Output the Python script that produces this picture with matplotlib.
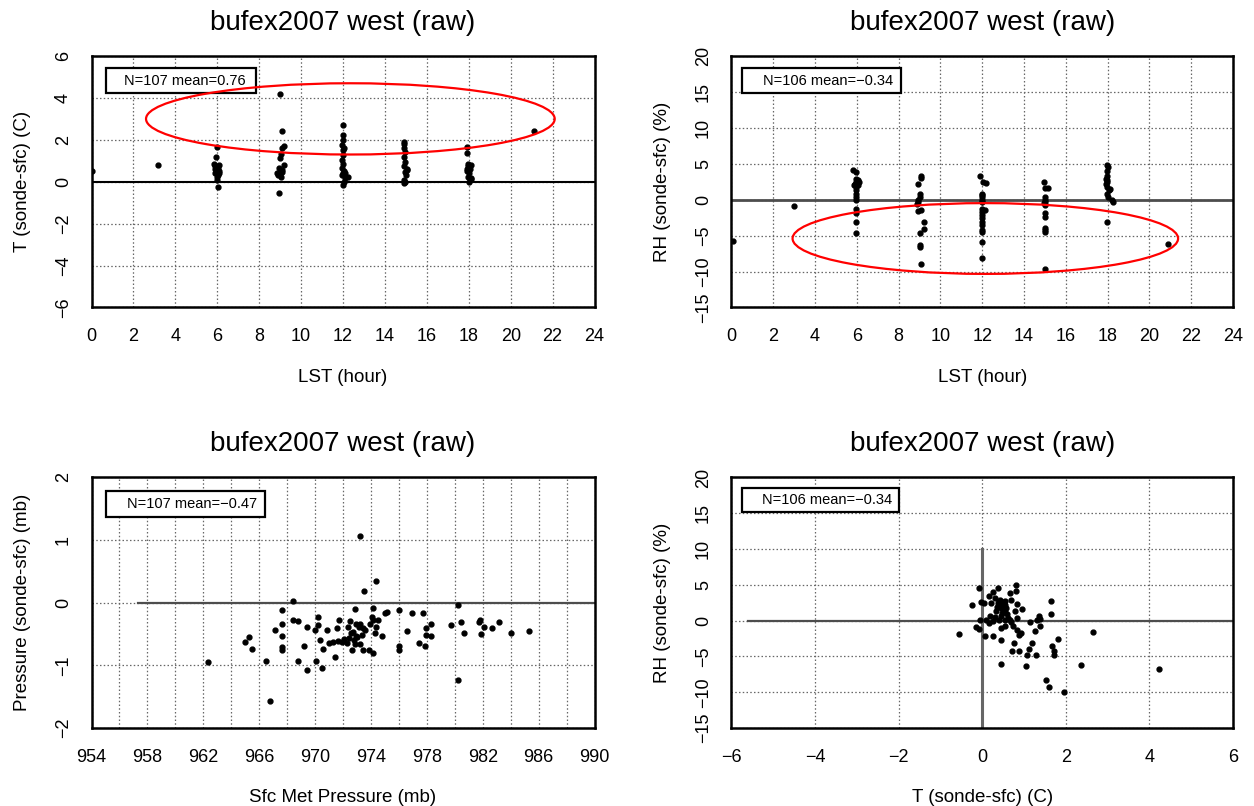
import matplotlib
matplotlib.use("Agg")
import numpy as np
import matplotlib.pyplot as plt
from matplotlib.patches import Ellipse, Rectangle

plt.rcParams['font.family'] = ['Liberation Sans', 'DejaVu Sans']

# --- T (sonde-sfc) vs LST ---
t_hour = [0.0, 3.17,
          6.0, 5.95, 5.85, 5.9, 6.05, 5.95, 6.1, 6.0, 6.1, 5.9, 6.05, 6.0, 6.0, 6.05, 5.9, 6.1,
          9.0, 9.07, 9.2, 9.07, 9.03, 9.0, 9.17, 8.95, 9.07, 8.86, 9.0, 9.02, 8.95, 9.1, 8.92,
          12.0, 12.0, 12.0, 11.97, 12.0, 12.0, 11.97, 12.0, 11.97, 12.05, 12.0, 12.24, 12.1, 12.03, 12.0, 12.1, 11.95, 12.03,
          14.9, 14.9, 14.95, 14.92, 14.95, 14.9, 15.05, 14.95, 15.0, 14.92, 14.92, 15.05, 14.9, 14.95,
          17.9, 17.9, 17.95, 18.1, 17.95, 18.05, 17.9, 18.0, 17.95, 18.1, 18.0, 18.1, 17.9,
          21.1]
t_diff = [0.5, 0.8,
          1.67, 1.19, 0.87, 0.75, 0.68, 0.59, 0.52, 0.48, 0.4, 0.4, 0.32, 0.21, 0.08, -0.27, 0.62, 0.78,
          4.17, 2.41, 1.71, 1.62, 1.32, 1.11, 0.79, 0.68, 0.56, 0.43, 0.35, 0.21, -0.52, 0.45, 0.3,
          2.7, 2.22, 1.98, 1.75, 1.51, 1.27, 1.03, 0.87, 0.68, 0.52, 0.4, 0.24, 0.16, 0.0, -0.16, 0.42, 0.3, 1.6,
          1.9, 1.79, 1.43, 1.19, 0.95, 0.75, 0.59, 0.48, 0.32, 0.08, -0.08, 0.55, 1.6, 0.0,
          1.67, 1.35, 0.84, 0.8, 0.75, 0.63, 0.52, 0.4, 0.24, 0.11, 0.0, 0.18, 0.6,
          2.43]

# --- RH (sonde-sfc) vs LST ---
rh_hour = [0.05, 3.0,
           5.8, 5.97, 5.97, 6.05, 5.95, 5.9, 6.05, 5.95, 5.97, 5.97, 5.97, 5.97, 5.97, 5.97, 5.95, 5.95, 6.1, 5.85,
           9.05, 8.95, 9.0, 9.0, 8.92, 8.95, 8.9, 9.08, 9.2, 9.2, 9.0, 9.0, 9.03, 9.08, 9.05, 8.95,
           11.9, 12.05, 12.2, 11.97, 11.97, 11.97, 11.97, 11.97, 12.13, 11.97, 11.97, 11.97, 11.97, 11.97, 11.97, 11.97, 11.97, 11.97, 12.0,
           14.95, 15.0, 15.15, 15.0, 15.0, 15.0, 15.0, 15.0, 15.0, 15.0, 15.0, 15.0, 15.0, 14.95,
           17.95, 18.0, 17.95, 17.97, 17.93, 17.97, 17.93, 17.97, 18.05, 17.97, 18.0, 18.2, 18.25, 17.97, 18.1, 17.95,
           20.9]
rh_diff = [-5.8, -0.83,
           4.15, 3.8, 2.9, 2.7, 2.45, 2.2, 2.0, 1.75, 1.3, 0.8, 0.35, 0.0, -1.25, -1.9, -3.05, -4.7, 2.5, 2.1,
           3.36, 2.2, 0.83, 0.37, 0.0, -0.32, -0.55, -1.47, -3.1, -4.1, -4.7, -6.3, -6.55, -8.9, 3.0, -1.6,
           3.36, 2.44, 2.35, 0.83, 0.37, 0.0, -0.3, -1.24, -1.47, -1.7, -2.17, -2.6, -3.1, -3.55, -4.2, -4.5, -5.85, -8.15, 0.6,
           2.44, 1.66, 1.66, 0.37, 0.0, -0.3, -0.8, -1.9, -2.4, -3.9, -4.2, -4.5, -9.7, -0.5,
           4.9, 4.5, 4.05, 3.36, 2.9, 2.44, 2.2, 1.75, 1.3, 0.83, 0.37, -0.1, -0.3, -3.1, 1.5, 2.7,
           -6.1]

# --- Pressure (sonde-sfc) vs Sfc Met Pressure ---
p_sfc = [973.23, 974.38, 973.47, 968.40, 980.21, 967.66, 972.85, 974.11, 976.03, 975.14,
         974.97, 976.91, 977.70, 970.20, 974.07, 974.14, 974.47, 968.40, 968.81, 971.73,
         972.51, 981.83, 981.73, 983.15, 980.45, 979.75, 978.32, 967.66, 970.24, 972.92,
         973.23, 973.95, 974.35, 969.43, 969.96, 970.84, 971.58, 972.39, 973.11, 973.40,
         977.96, 982.07, 982.65, 967.16, 985.30, 984.03, 976.58, 980.64, 981.90, 965.25,
         967.66, 972.56, 973.35, 972.92, 974.28, 974.78, 977.91, 978.32, 965.01, 970.32,
         970.96, 971.27, 971.65, 972.06, 971.92, 972.27, 972.75, 972.87, 973.18, 977.44,
         977.84, 969.19, 967.66, 976.03, 965.49, 967.66, 970.58, 972.61, 973.40, 973.88,
         974.14, 976.03, 971.46, 966.52, 968.81, 970.05, 969.43, 970.46, 962.33, 980.21,
         966.78, 972.70, 973.00, 972.40, 973.60]
p_diff = [1.06, 0.35, 0.19, 0.02, -0.03, -0.12, -0.10, -0.08, -0.12, -0.15,
          -0.17, -0.17, -0.17, -0.22, -0.22, -0.28, -0.28, -0.27, -0.29, -0.27,
          -0.29, -0.27, -0.30, -0.31, -0.31, -0.36, -0.34, -0.34, -0.36, -0.34,
          -0.34, -0.34, -0.38, -0.39, -0.43, -0.44, -0.41, -0.38, -0.39, -0.41,
          -0.41, -0.39, -0.41, -0.43, -0.45, -0.48, -0.45, -0.48, -0.50, -0.55,
          -0.53, -0.49, -0.52, -0.53, -0.49, -0.53, -0.51, -0.53, -0.62, -0.60,
          -0.64, -0.62, -0.61, -0.58, -0.63, -0.65, -0.60, -0.66, -0.66, -0.65,
          -0.69, -0.69, -0.70, -0.69, -0.74, -0.76, -0.74, -0.76, -0.76, -0.76,
          -0.81, -0.76, -0.86, -0.93, -0.93, -0.93, -1.07, -1.05, -0.95, -1.24,
          -1.57, -0.47, -0.55, -0.57, -0.44]

# --- RH (sonde-sfc) vs T (sonde-sfc) ---
sc_t = [-0.07, 0.38, 0.80, 0.80, 0.66, 0.26, 0.17, 0.30, 0.42, 0.54,
        -0.02, 0.05, -0.25, 0.22, 0.38, 0.50, 0.84, 0.70, 1.65, 0.46,
        0.58, 0.96, 0.34, 0.54, 0.78, 1.65, 0.18, 0.30, 0.46, 0.62,
        0.84, 1.35, -0.06, 0.10, 0.26, 0.41, 0.54, 0.66, 0.70, 1.14,
        1.30, 1.38, -0.14, -0.07, 0.17, 0.44, 0.54, 0.74, 0.84, 1.27,
        1.38, -0.55, 0.06, 0.25, 0.45, 0.88, 0.94, 1.81, 2.65, 0.76,
        1.18, 1.68, 0.72, 0.88, 1.12, 1.08, 1.28, 1.72, 1.72, 0.46,
        1.06, 2.37, 4.22, 1.52, 1.60, 1.95, 0.45, 0.50, 0.55, 0.48,
        0.40, 0.60, 0.35, 0.52]
sc_rh = [4.56, 4.56, 5.02, 4.09, 3.86, 3.95, 3.40, 3.16, 2.93, 2.70,
         2.60, 2.47, 2.14, 2.47, 2.47, 2.23, 2.33, 2.93, 2.70, 1.77,
         1.77, 1.67, 1.30, 1.16, 1.30, 0.93, 0.60, 0.51, 0.60, 0.37,
         0.37, 0.70, 0.14, 0.05, -0.09, 0.14, 0.05, 0.14, -0.23, -0.19,
         0.14, 0.23, -0.93, -1.16, -0.33, -1.02, -0.70, -0.79, -1.26, -1.40,
         -0.79, -1.81, -2.09, -2.09, -2.65, -1.95, -1.72, -2.51, -1.63, -3.12,
         -3.12, -3.49, -4.28, -4.28, -3.91, -4.74, -4.74, -4.19, -4.74, -6.0,
         -6.37, -6.23, -6.74, -8.23, -9.26, -9.95, 2.0, 1.5, 2.2, 1.0,
         2.6, 0.9, 1.9, 2.6]

TITLE = "bufex2007 west (raw)"
GRID = dict(color='0.4', linestyle=(0, (1.2, 1.8)), linewidth=0.9)


def style(ax, xlim, ylim, xticks, yticks, xgrid, ygrid, xlabel, ylabel):
    ax.set_xlim(xlim)
    ax.set_ylim(ylim)
    ax.set_xticks(xticks)
    ax.set_yticks(yticks)
    ax.set_xticks(xgrid, minor=True)
    ax.set_yticks(ygrid, minor=True)
    ax.grid(True, which='both', **GRID)
    ax.set_axisbelow(True)
    ax.tick_params(which='both', length=0, labelsize=13)
    ax.tick_params(axis='x', pad=15)
    ax.tick_params(axis='y', pad=14, labelrotation=90)
    for lab in ax.get_yticklabels():
        lab.set_verticalalignment('center')
    for sp in ax.spines.values():
        sp.set_linewidth(1.8)
    ax.set_xlabel(xlabel, fontsize=13.5, labelpad=17)
    ax.set_ylabel(ylabel, fontsize=13.5, labelpad=17)
    ax.set_title(TITLE, fontsize=20, pad=19)


def stat_box(ax, text, x0, y0, x1, y1, xr):
    ax.add_patch(Rectangle((x0, y0), x1 - x0, y1 - y0, transform=ax.transAxes,
                           facecolor='white', edgecolor='black', linewidth=1.6, zorder=4))
    ax.text(xr, (y0 + y1) / 2, text, transform=ax.transAxes, ha='right', va='center',
            fontsize=10.5, zorder=5)


fig = plt.figure(figsize=(12.54, 8.06), dpi=100)
ax1 = fig.add_axes([0.0730, 0.6185, 0.4011, 0.3120])
ax2 = fig.add_axes([0.5833, 0.6185, 0.3999, 0.3120])
ax3 = fig.add_axes([0.0730, 0.0968, 0.4011, 0.3108])
ax4 = fig.add_axes([0.5833, 0.0968, 0.3999, 0.3108])

dot = dict(marker='o', linestyle='none', color='black', markersize=3.5, zorder=3)

# panel 1
style(ax1, (0, 24), (-6, 6), np.arange(0, 25, 2), np.arange(-6, 7, 2),
      np.arange(0, 25, 2), np.arange(-6, 7, 2), "LST (hour)", "T (sonde-sfc) (C)")
ax1.axhline(0, color='black', linewidth=1.5, zorder=2)
ax1.plot(t_hour, t_diff, **dot)
stat_box(ax1, "N=107 mean=0.76", 0.028, 0.853, 0.327, 0.952, 0.307)
ax1.add_patch(Ellipse((12.35, 3.0), 19.5, 3.4, fill=False, edgecolor='red', linewidth=1.6, zorder=6))

# panel 2
style(ax2, (0, 24), (-15, 20), np.arange(0, 25, 2), np.arange(-15, 21, 5),
      np.arange(0, 25, 2), np.arange(-15, 21, 5), "LST (hour)", "RH (sonde-sfc) (%)")
ax2.axhline(0, color='0.3', linewidth=2.0, zorder=2)
ax2.plot(rh_hour, rh_diff, **dot)
stat_box(ax2, "N=106 mean=\u22120.34", 0.022, 0.853, 0.338, 0.952, 0.322)
ax2.add_patch(Ellipse((12.15, -5.4), 18.45, 9.85, fill=False, edgecolor='red', linewidth=1.6, zorder=6))

# panel 3
style(ax3, (954, 990), (-2, 2), np.arange(954, 991, 4), np.arange(-2, 3, 1),
      np.arange(954, 991, 2), np.arange(-2, 3, 1), "Sfc Met Pressure (mb)", "Pressure (sonde-sfc) (mb)")
ax3.plot([957.3, 990], [0, 0], color='0.3', linewidth=1.6, zorder=2)
ax3.plot(p_sfc, p_diff, **dot)
stat_box(ax3, "N=107 mean=\u22120.47", 0.028, 0.844, 0.345, 0.947, 0.330)

# panel 4
style(ax4, (-6, 6), (-15, 20), np.arange(-6, 7, 2), np.arange(-15, 21, 5),
      np.arange(-6, 7, 2), np.arange(-15, 21, 5), "T (sonde-sfc) (C)", "RH (sonde-sfc) (%)")
ax4.plot([-5.6, 6], [0, 0], color='0.3', linewidth=1.6, zorder=2)
ax4.plot([0, 0], [-15, 10], color='0.4', linewidth=2.2, zorder=2)
ax4.plot(sc_t, sc_rh, **dot)
stat_box(ax4, "N=106 mean=\u22120.34", 0.022, 0.863, 0.335, 0.959, 0.321)

fig.savefig("out.png", dpi=100)
